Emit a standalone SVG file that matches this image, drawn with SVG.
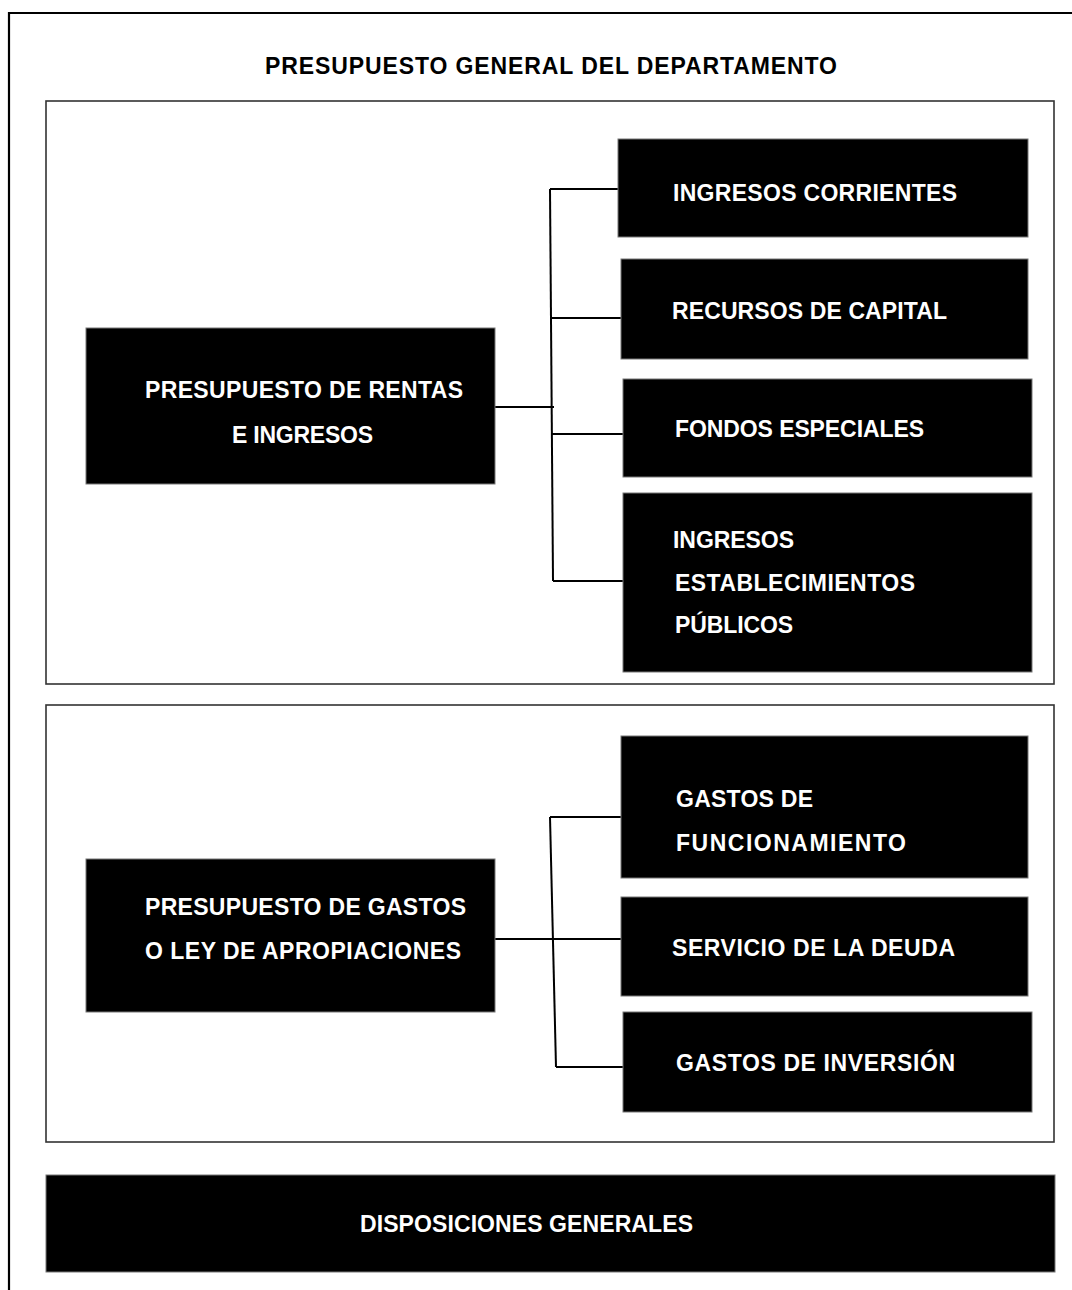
<svg xmlns="http://www.w3.org/2000/svg" width="1072" height="1290" viewBox="0 0 1072 1290">
<style>
.frame{fill:#fff;stroke:#333;stroke-width:1.6}
.box{fill:#000;stroke:#777;stroke-width:1}
.con{stroke:#000;stroke-width:2;fill:none}
.t{font-family:"Liberation Sans",Arial,sans-serif;font-weight:bold;font-size:23px;fill:#fff}
.title{fill:#000}
</style>
<rect width="1072" height="1290" fill="#fff"/>
<g id="outer-border">
<path d="M9,1290 V13 H1072" fill="none" stroke="#000" stroke-width="2.2"/>
</g>
<text class="t title" x="265" y="74" textLength="572">PRESUPUESTO GENERAL  DEL DEPARTAMENTO</text>
<g id="frame-ingresos"><rect class="frame" x="46" y="101" width="1008" height="583"/></g>
<g id="frame-gastos"><rect class="frame" x="46" y="705" width="1008" height="437"/></g>
<g id="connectors">
<path class="con" d="M495,407 H554"/>
<path class="con" d="M550,189 L553,581"/>
<path class="con" d="M550,189 H618"/>
<path class="con" d="M551,318 H621"/>
<path class="con" d="M552,434 H623"/>
<path class="con" d="M553,581 H623"/>
<path class="con" d="M495,939 H621"/>
<path class="con" d="M550,817 L556,1067"/>
<path class="con" d="M550,817 H621"/>
<path class="con" d="M556,1067 H623"/>
</g>
<g id="presupuesto-rentas">
<rect class="box" x="86" y="328" width="409" height="156"/>
<text class="t" x="145" y="398" textLength="318">PRESUPUESTO DE RENTAS</text>
<text class="t" x="232" y="443" textLength="141">E INGRESOS</text>
</g>
<g id="ingresos-corrientes">
<rect class="box" x="618" y="139" width="410" height="98"/>
<text class="t" x="673" y="201" textLength="284">INGRESOS CORRIENTES</text>
</g>
<g id="recursos-capital">
<rect class="box" x="621" y="259" width="407" height="100"/>
<text class="t" x="672" y="319" textLength="275">RECURSOS DE CAPITAL</text>
</g>
<g id="fondos-especiales">
<rect class="box" x="623" y="379" width="409" height="98"/>
<text class="t" x="675" y="437" textLength="249">FONDOS ESPECIALES</text>
</g>
<g id="ingresos-establecimientos">
<rect class="box" x="623" y="493" width="409" height="179"/>
<text class="t" x="673" y="548" textLength="121">INGRESOS</text>
<text class="t" x="675" y="591" textLength="240">ESTABLECIMIENTOS</text>
<text class="t" x="675" y="633" textLength="118">PÚBLICOS</text>
</g>
<g id="presupuesto-gastos">
<rect class="box" x="86" y="859" width="409" height="153"/>
<text class="t" x="145" y="915" textLength="321">PRESUPUESTO DE GASTOS</text>
<text class="t" x="145" y="959" textLength="316">O LEY DE APROPIACIONES</text>
</g>
<g id="gastos-funcionamiento">
<rect class="box" x="621" y="736" width="407" height="142"/>
<text class="t" x="676" y="807" textLength="137">GASTOS DE</text>
<text class="t" x="676" y="851" textLength="230">FUNCIONAMIENTO</text>
</g>
<g id="servicio-deuda">
<rect class="box" x="621" y="897" width="407" height="99"/>
<text class="t" x="672" y="956" textLength="283">SERVICIO DE LA DEUDA</text>
</g>
<g id="gastos-inversion">
<rect class="box" x="623" y="1012" width="409" height="100"/>
<text class="t" x="676" y="1071" textLength="279">GASTOS DE INVERSIÓN</text>
</g>
<g id="disposiciones-generales">
<rect class="box" x="46" y="1175" width="1009" height="97"/>
<text class="t" x="360" y="1232" textLength="333">DISPOSICIONES GENERALES</text>
</g>
</svg>
